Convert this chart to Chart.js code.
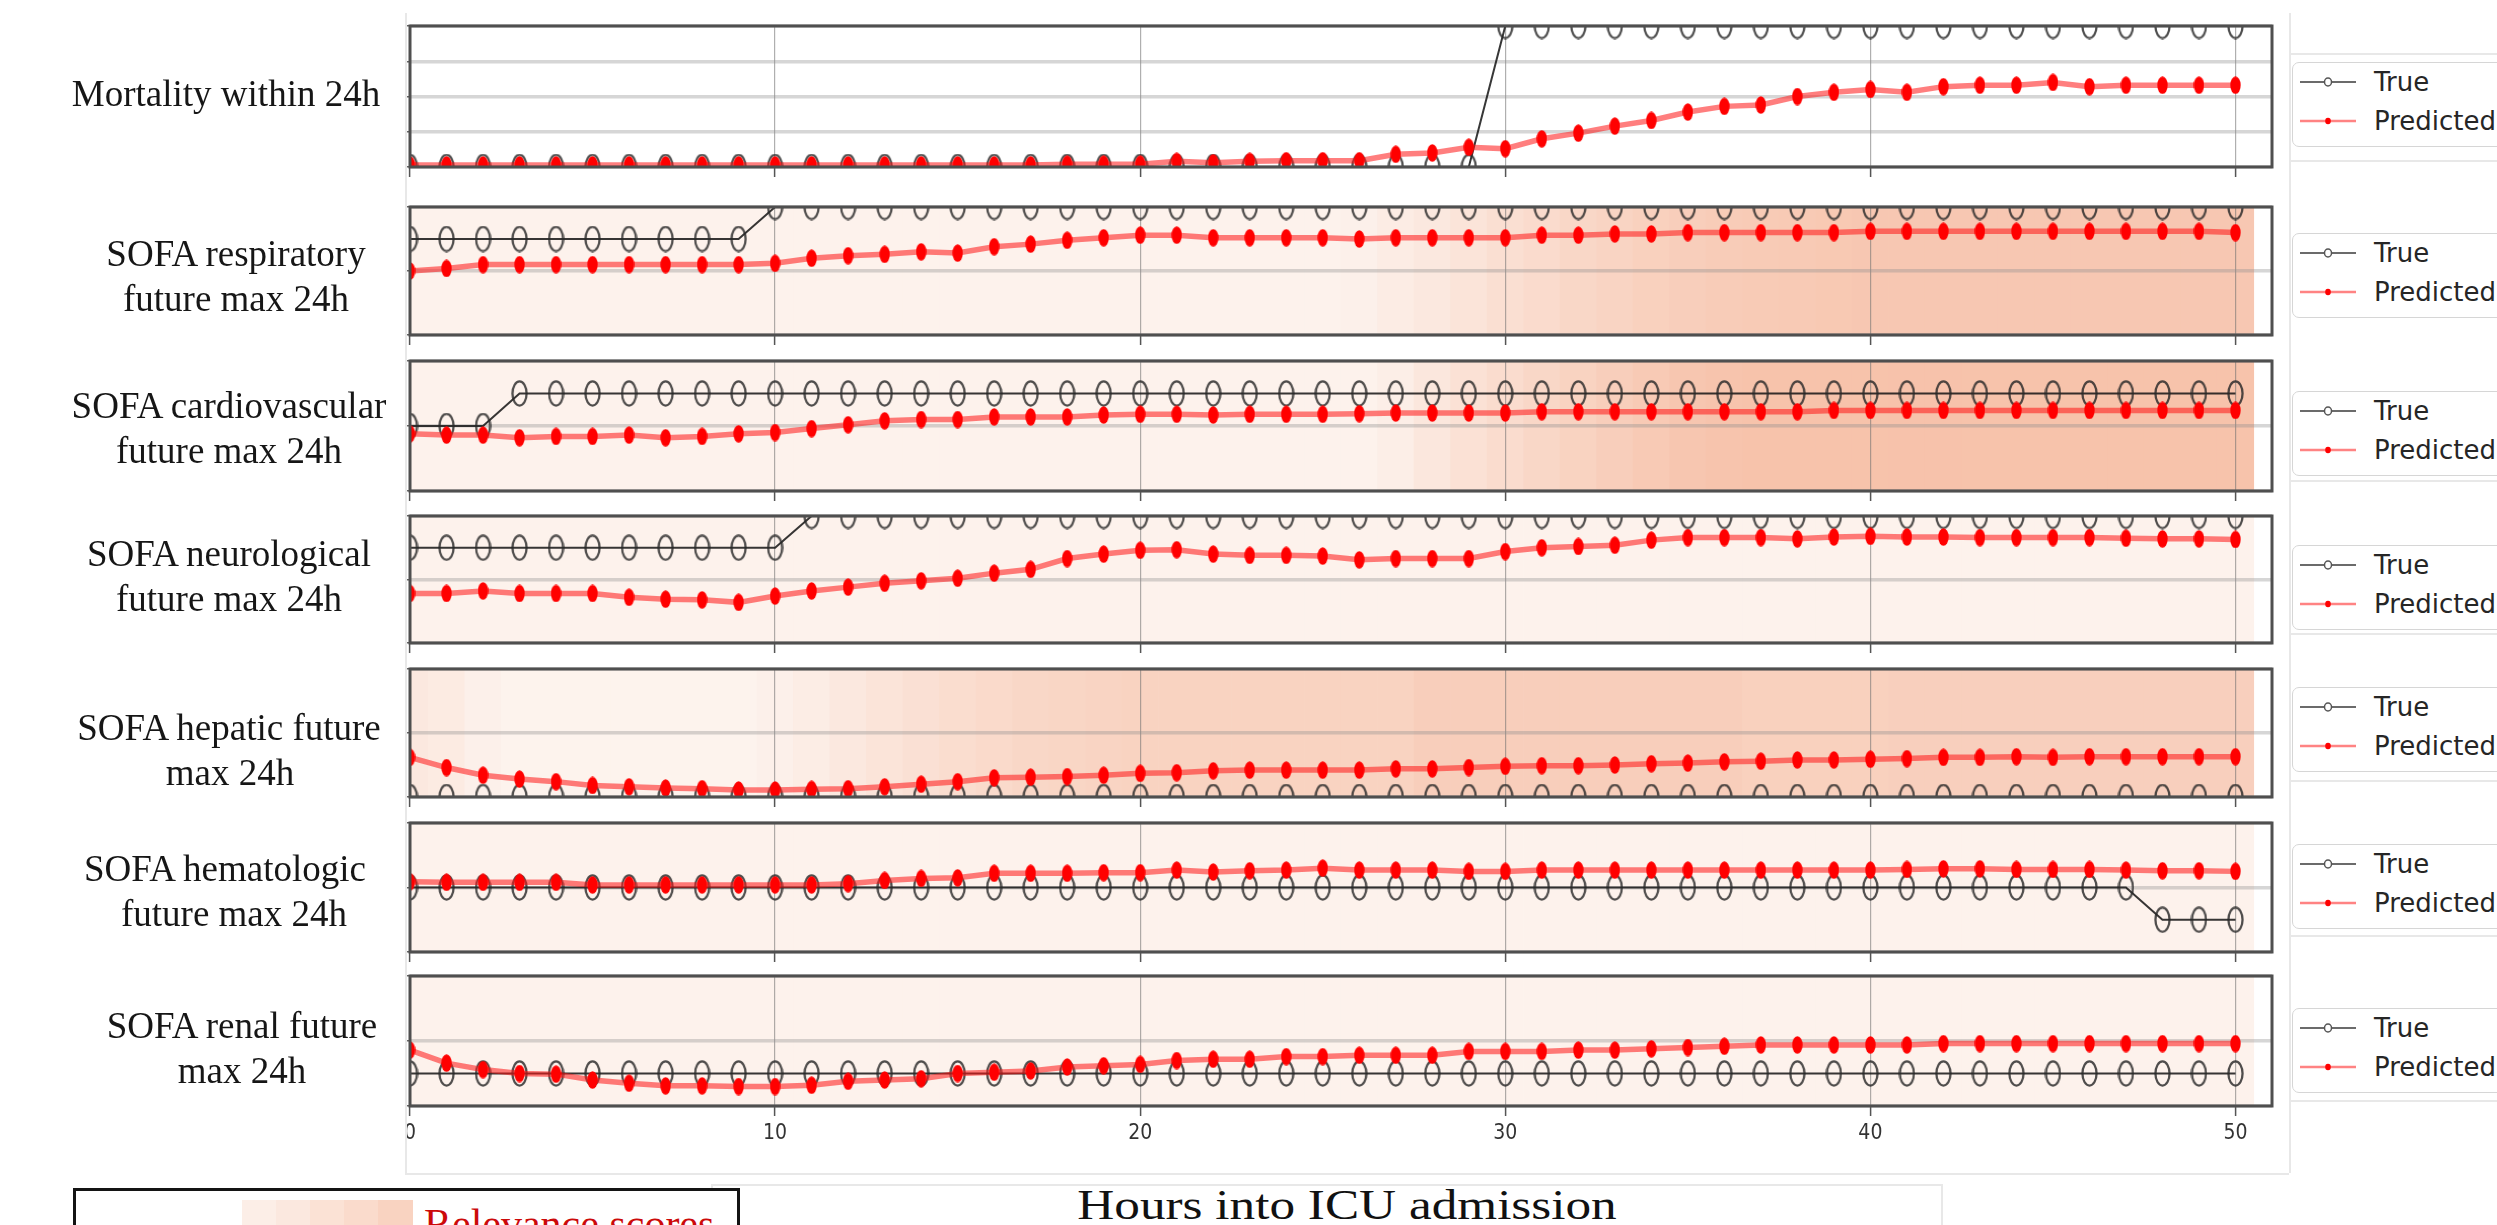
<!DOCTYPE html>
<html>
<head>
<meta charset="utf-8">
<script src="https://cdn.jsdelivr.net/npm/chart.js@4.4.1/dist/chart.umd.min.js"></script>
<style>
  html, body { margin:0; padding:0; background:#ffffff; }
  body { width:2497px; height:1225px; position:relative; overflow:hidden; }
  canvas { position:absolute; }
  .lbl { position:absolute; font-family:'Liberation Serif','Times New Roman',serif; font-size:37px; color:#161616; white-space:nowrap; transform:translate(-50%,-50%); line-height:1; }
  .leg { position:absolute; left:2292px; width:260px; height:85px; border:1.5px solid #d6d6d6; border-radius:7px; background:#fff; box-sizing:border-box; }
  .leg .row { position:absolute; left:0; height:30px; width:100%; }
  .leg svg { position:absolute; left:6px; top:5px; }
  .leg span { position:absolute; left:81px; top:0; font-family:'DejaVu Sans',sans-serif; font-size:26px; line-height:30px; color:#262626; }
  .faint { position:absolute; background:#e8e8e8; }
</style>
</head>
<body>
<script>
// ---------------- data ----------------
const HOURS = [0,1,2,3,4,5,6,7,8,9,10,11,12,13,14,15,16,17,18,19,20,21,22,23,24,25,26,27,28,29,30,31,32,33,34,35,36,37,38,39,40,41,42,43,44,45,46,47,48,49,50];
const X_TICKS = [0,10,20,30,40,50];

const MORT_TRUE = [0,0,0,0,0,0,0,0,0,0, 0,0,0,0,0,0,0,0,0,0, 0,0,0,0,0,0,0,0,0,0, 1,1,1,1,1,1,1,1,1,1, 1,1,1,1,1,1,1,1,1,1, 1];
const MORT_PRED = [0.015,0.015,0.015,0.015,0.015,0.015,0.015,0.015,0.015,0.015, 0.015,0.015,0.015,0.015,0.015,0.015,0.015,0.015,0.02,0.02, 0.02,0.04,0.03,0.04,0.045,0.045,0.045,0.09,0.10,0.14, 0.13,0.20,0.24,0.29,0.33,0.39,0.43,0.44,0.50,0.53, 0.55,0.53,0.57,0.58,0.58,0.60,0.57,0.58,0.58,0.58, 0.58];

const RESP_TRUE = [0.75,0.75,0.75,0.75,0.75,0.75,0.75,0.75,0.75,0.75, 1,1,1,1,1,1,1,1,1,1, 1,1,1,1,1,1,1,1,1,1, 1,1,1,1,1,1,1,1,1,1, 1,1,1,1,1,1,1,1,1,1, 1];
const RESP_PRED = [0.50,0.52,0.55,0.55,0.55,0.55,0.55,0.55,0.55,0.55, 0.56,0.60,0.62,0.63,0.65,0.64,0.69,0.71,0.74,0.76, 0.78,0.78,0.76,0.76,0.76,0.76,0.75,0.76,0.76,0.76, 0.76,0.78,0.78,0.79,0.79,0.80,0.80,0.80,0.80,0.80, 0.81,0.81,0.81,0.81,0.81,0.81,0.81,0.81,0.81,0.81, 0.80];
const RESP_REL = [0.05,0.05,0.05,0.05,0.05,0.05,0.05,0.05,0.05,0.05, 0.05,0.05,0.05,0.05,0.05,0.05,0.05,0.05,0.05,0.05, 0.05,0.05,0.05,0.05,0.05,0.05,0.08,0.15,0.22,0.30, 0.38,0.45,0.52,0.58,0.64,0.68,0.72,0.74,0.76,0.78, 0.80,0.80,0.80,0.80,0.80,0.80,0.80,0.80,0.80,0.80, 0.80];

const CARD_TRUE = [0.5,0.5,0.5,0.75,0.75,0.75,0.75,0.75,0.75,0.75, 0.75,0.75,0.75,0.75,0.75,0.75,0.75,0.75,0.75,0.75, 0.75,0.75,0.75,0.75,0.75,0.75,0.75,0.75,0.75,0.75, 0.75,0.75,0.75,0.75,0.75,0.75,0.75,0.75,0.75,0.75, 0.75,0.75,0.75,0.75,0.75,0.75,0.75,0.75,0.75,0.75, 0.75];
const CARD_PRED = [0.44,0.43,0.43,0.41,0.42,0.42,0.43,0.41,0.42,0.44, 0.45,0.48,0.51,0.54,0.55,0.55,0.57,0.57,0.57,0.585, 0.59,0.59,0.585,0.59,0.59,0.59,0.595,0.60,0.60,0.60, 0.60,0.61,0.61,0.61,0.61,0.61,0.61,0.61,0.61,0.62, 0.62,0.62,0.62,0.62,0.62,0.62,0.62,0.62,0.62,0.62, 0.62];
const CARD_REL = [0.05,0.05,0.05,0.05,0.05,0.05,0.05,0.05,0.05,0.05, 0.05,0.05,0.05,0.05,0.05,0.05,0.05,0.05,0.05,0.05, 0.05,0.05,0.05,0.05,0.05,0.05,0.05,0.12,0.24,0.35, 0.44,0.52,0.60,0.68,0.76,0.82,0.86,0.88,0.88,0.88, 0.88,0.89,0.89,0.88,0.88,0.88,0.88,0.88,0.88,0.88, 0.88];

const NEURO_TRUE = [0.75,0.75,0.75,0.75,0.75,0.75,0.75,0.75,0.75,0.75, 0.75,1,1,1,1,1,1,1,1,1, 1,1,1,1,1,1,1,1,1,1, 1,1,1,1,1,1,1,1,1,1, 1,1,1,1,1,1,1,1,1,1, 1];
const NEURO_PRED = [0.39,0.39,0.41,0.39,0.39,0.39,0.36,0.345,0.34,0.32, 0.37,0.41,0.44,0.47,0.49,0.51,0.55,0.58,0.665,0.70, 0.73,0.735,0.70,0.69,0.69,0.685,0.655,0.665,0.665,0.665, 0.72,0.75,0.76,0.77,0.81,0.83,0.83,0.83,0.82,0.835, 0.84,0.835,0.835,0.83,0.83,0.83,0.83,0.825,0.82,0.82, 0.815];
const NEURO_REL = [0.05,0.05,0.05,0.05,0.05,0.05,0.05,0.05,0.05,0.05, 0.05,0.05,0.05,0.05,0.05,0.05,0.05,0.05,0.05,0.05, 0.05,0.05,0.05,0.05,0.05,0.05,0.05,0.05,0.05,0.05, 0.05,0.05,0.05,0.05,0.05,0.05,0.05,0.05,0.05,0.05, 0.05,0.05,0.05,0.05,0.05,0.05,0.05,0.05,0.05,0.05, 0.05];

const HEP_TRUE = [0,0,0,0,0,0,0,0,0,0, 0,0,0,0,0,0,0,0,0,0, 0,0,0,0,0,0,0,0,0,0, 0,0,0,0,0,0,0,0,0,0, 0,0,0,0,0,0,0,0,0,0, 0];
const HEP_PRED = [0.31,0.23,0.17,0.14,0.12,0.09,0.08,0.07,0.065,0.055, 0.055,0.06,0.065,0.08,0.10,0.12,0.15,0.155,0.16,0.17, 0.185,0.19,0.205,0.21,0.21,0.21,0.21,0.22,0.22,0.23, 0.24,0.245,0.245,0.25,0.26,0.265,0.275,0.28,0.29,0.29, 0.295,0.30,0.31,0.31,0.315,0.31,0.315,0.315,0.315,0.315, 0.315];
const HEP_REL = [0.22,0.18,0.08,0.04,0.04,0.04,0.04,0.04,0.04,0.04, 0.08,0.14,0.22,0.30,0.36,0.42,0.48,0.52,0.55,0.58, 0.60,0.60,0.60,0.60,0.60,0.60,0.60,0.60,0.68,0.68, 0.68,0.68,0.68,0.68,0.68,0.68,0.68,0.64,0.64,0.64, 0.64,0.66,0.66,0.66,0.66,0.66,0.66,0.66,0.66,0.66, 0.66];

const HEMAT_TRUE = [0.5,0.5,0.5,0.5,0.5,0.5,0.5,0.5,0.5,0.5, 0.5,0.5,0.5,0.5,0.5,0.5,0.5,0.5,0.5,0.5, 0.5,0.5,0.5,0.5,0.5,0.5,0.5,0.5,0.5,0.5, 0.5,0.5,0.5,0.5,0.5,0.5,0.5,0.5,0.5,0.5, 0.5,0.5,0.5,0.5,0.5,0.5,0.5,0.5,0.25,0.25, 0.25];
const HEMAT_PRED = [0.545,0.54,0.54,0.54,0.54,0.52,0.52,0.52,0.52,0.52, 0.52,0.52,0.53,0.555,0.57,0.575,0.61,0.61,0.61,0.615, 0.615,0.635,0.62,0.63,0.635,0.65,0.635,0.635,0.635,0.625, 0.625,0.635,0.635,0.635,0.635,0.635,0.635,0.635,0.635,0.635, 0.635,0.64,0.645,0.645,0.64,0.64,0.64,0.635,0.63,0.63, 0.625];
const HEMAT_REL = [0.05,0.05,0.05,0.05,0.05,0.05,0.05,0.05,0.05,0.05, 0.05,0.05,0.05,0.05,0.05,0.05,0.05,0.05,0.05,0.05, 0.05,0.05,0.05,0.05,0.05,0.05,0.05,0.05,0.05,0.05, 0.05,0.05,0.05,0.05,0.05,0.05,0.05,0.05,0.05,0.05, 0.05,0.05,0.05,0.05,0.05,0.05,0.05,0.05,0.05,0.05, 0.05];

const RENAL_TRUE = [0.25,0.25,0.25,0.25,0.25,0.25,0.25,0.25,0.25,0.25, 0.25,0.25,0.25,0.25,0.25,0.25,0.25,0.25,0.25,0.25, 0.25,0.25,0.25,0.25,0.25,0.25,0.25,0.25,0.25,0.25, 0.25,0.25,0.25,0.25,0.25,0.25,0.25,0.25,0.25,0.25, 0.25,0.25,0.25,0.25,0.25,0.25,0.25,0.25,0.25,0.25, 0.25];
const RENAL_PRED = [0.43,0.33,0.28,0.25,0.245,0.20,0.175,0.155,0.155,0.15, 0.15,0.16,0.19,0.20,0.21,0.25,0.26,0.27,0.30,0.31, 0.32,0.35,0.36,0.36,0.38,0.38,0.39,0.39,0.39,0.42, 0.42,0.42,0.43,0.43,0.44,0.45,0.46,0.47,0.47,0.47, 0.47,0.47,0.48,0.48,0.48,0.48,0.48,0.48,0.48,0.48, 0.48];
const RENAL_REL = [0.05,0.05,0.05,0.05,0.05,0.05,0.05,0.05,0.05,0.05, 0.05,0.05,0.05,0.05,0.05,0.05,0.05,0.05,0.05,0.05, 0.05,0.05,0.05,0.05,0.05,0.05,0.05,0.05,0.05,0.05, 0.05,0.05,0.05,0.05,0.05,0.05,0.05,0.05,0.05,0.05, 0.05,0.05,0.05,0.05,0.05,0.05,0.05,0.05,0.05,0.05, 0.05];

const ROW_LABELS = [
  ["Mortality within 24h"],
  ["SOFA respiratory", "future max 24h"],
  ["SOFA cardiovascular", "future max 24h"],
  ["SOFA neurological", "future max 24h"],
  ["SOFA hepatic future", "max 24h"],
  ["SOFA hematologic", "future max 24h"],
  ["SOFA renal future", "max 24h"]
];
const LEGEND_LABELS = ["True", "Predicted"];
const X_TITLE = "Hours into ICU admission";
const REL_TITLE = "Relevance scores";

// ---------------- layout ----------------
const CV_LEFT = 360, CV_RIGHT = 2300, PLOT_LEFT = 410, PLOT_RIGHT = 2272, PAD_TOP = 14;
const LAYOUT = [
  {top:26,  bottom:167,  ystep:0.25, tv:MORT_TRUE,  pv:MORT_PRED,  rel:null,      cx:[226],     cy:[93],        leg:62,   xh:18},
  {top:207, bottom:335,  ystep:0.5,  tv:RESP_TRUE,  pv:RESP_PRED,  rel:RESP_REL,  cx:[236,236], cy:[253,298],   leg:233,  xh:18},
  {top:361, bottom:491,  ystep:0.5,  tv:CARD_TRUE,  pv:CARD_PRED,  rel:CARD_REL,  cx:[229,229], cy:[405,450],   leg:391,  xh:18},
  {top:516, bottom:643,  ystep:0.5,  tv:NEURO_TRUE, pv:NEURO_PRED, rel:NEURO_REL, cx:[229,229], cy:[553,598],   leg:545,  xh:18},
  {top:669, bottom:797,  ystep:0.5,  tv:HEP_TRUE,   pv:HEP_PRED,   rel:HEP_REL,   cx:[229,230], cy:[727,772],   leg:687,  xh:18},
  {top:823, bottom:952,  ystep:0.5,  tv:HEMAT_TRUE, pv:HEMAT_PRED, rel:HEMAT_REL, cx:[225,234], cy:[868,913],   leg:844,  xh:18},
  {top:976, bottom:1106, ystep:0.5,  tv:RENAL_TRUE, pv:RENAL_PRED, rel:RENAL_REL, cx:[242,242], cy:[1025,1070], leg:1008, xh:52, ticks:true}
];

function relColor(v) {
  const L = [253,245,240], D = [246,188,162];
  const c = L.map((l,i) => Math.round(l + (D[i]-l)*v));
  return `rgb(${c[0]},${c[1]},${c[2]})`;
}

function ellipseMarker(w, h, fill, stroke, lw) {
  const c = document.createElement('canvas');
  c.width = w; c.height = h;
  const g = c.getContext('2d');
  g.beginPath();
  g.ellipse(w/2, h/2, w/2 - lw/2 - 0.3, h/2 - lw/2 - 0.3, 0, 0, Math.PI*2);
  if (fill) { g.fillStyle = fill; g.fill(); }
  if (stroke) { g.strokeStyle = stroke; g.lineWidth = lw; g.stroke(); }
  return c;
}
const TRUE_MARK = ellipseMarker(17, 27, null, 'rgba(40,40,40,0.82)', 2.3);
const PRED_MARK = ellipseMarker(11, 18, '#ff0000', null, 0);

const framePlugin = {
  id: 'frame',
  afterDraw(chart) {
    const {ctx, chartArea:a} = chart;
    ctx.save();
    ctx.strokeStyle = '#4f4f4f';
    ctx.lineWidth = 3;
    ctx.strokeRect(a.left, a.top, a.right - a.left, a.bottom - a.top);
    ctx.restore();
  }
};

function addCanvas(top, h) {
  const cv = document.createElement('canvas');
  const w = CV_RIGHT - CV_LEFT;
  cv.width = w; cv.height = h;
  cv.style.left = CV_LEFT + 'px'; cv.style.top = top + 'px';
  cv.style.width = w + 'px'; cv.style.height = h + 'px';
  document.body.appendChild(cv);
  return cv;
}

function scalesFor(p, fg) {
  return {
    x: {
      type: 'linear', min: 0, max: 51, offset: false,
      afterFit: s => { s.height = p.xh; },
      afterBuildTicks: s => { s.ticks = X_TICKS.map(v => ({value: v})); },
      ticks: { display: fg && !!p.ticks, includeBounds: false, color: '#333',
               font: { family: "'DejaVu Sans Condensed','DejaVu Sans',sans-serif", size: 21 },
               padding: 5, maxRotation: 0, autoSkip: false },
      grid: { display: fg, offset: false, color: 'rgba(110,110,110,0.55)', lineWidth: 1.2,
              drawTicks: true, tickLength: 10, tickColor: '#555', tickWidth: 1.5 },
      border: { display: false }
    },
    y: {
      min: 0, max: 1,
      afterFit: s => { s.width = PLOT_LEFT - CV_LEFT; },
      ticks: { display: false, stepSize: p.ystep, includeBounds: false },
      grid: { display: fg, color: 'rgba(140,140,140,0.36)', lineWidth: 3.5, drawTicks: true,
              tickLength: 5, tickColor: 'rgba(60,60,60,0.8)', tickWidth: 1.5 },
      border: { display: false }
    }
  };
}

function baseOptions(p, fg) {
  return {
    responsive: false, animation: false, events: [],
    layout: { padding: { left: 0, right: CV_RIGHT - PLOT_RIGHT, top: PAD_TOP, bottom: 0 } },
    plugins: { legend: { display: false }, tooltip: { enabled: false } },
    scales: scalesFor(p, fg)
  };
}

LAYOUT.forEach((p, k) => {
  const top = p.top - PAD_TOP;
  const h = (p.bottom - p.top) + PAD_TOP + p.xh;
  // background relevance cells
  if (p.rel) {
    const bg = addCanvas(top, h);
    new Chart(bg, {
      type: 'bar',
      data: { datasets: [{
        data: HOURS.map((x, i) => ({x: x, y: 1})),
        backgroundColor: p.rel.map(relColor),
        borderWidth: 0, barPercentage: 1, categoryPercentage: 1, clip: 0
      }]},
      options: baseOptions(p, false)
    });
  }
  // foreground: grid, lines, markers, frame
  const fg = addCanvas(top, h);
  new Chart(fg, {
    type: 'line',
    data: { datasets: [
      { label: LEGEND_LABELS[1], data: HOURS.map((x, i) => ({x: x, y: p.pv[i]})),
        borderColor: 'rgba(255,20,20,0.55)', borderWidth: 5.5, tension: 0,
        pointStyle: PRED_MARK, pointRadius: 5, clip: 0 },
      { label: LEGEND_LABELS[0], data: HOURS.map((x, i) => ({x: x, y: p.tv[i]})),
        borderColor: 'rgba(20,20,20,0.85)', borderWidth: 2, tension: 0,
        pointStyle: TRUE_MARK, pointRadius: 6, clip: 0 }
    ]},
    options: baseOptions(p, true),
    plugins: [framePlugin]
  });

  // row label
  ROW_LABELS[k].forEach((t, j) => {
    const d = document.createElement('div');
    d.className = 'lbl'; d.textContent = t;
    d.style.left = p.cx[j] + 'px'; d.style.top = p.cy[j] + 'px';
    document.body.appendChild(d);
  });

  // legend
  const lg = document.createElement('div');
  lg.className = 'leg'; lg.style.top = p.leg + 'px';
  lg.innerHTML =
    `<div class="row" style="top:4px"><svg width="60" height="20"><line x1="1" y1="10" x2="57" y2="10" stroke="#3a3a3a" stroke-width="1.6"/><ellipse cx="29" cy="10" rx="3.5" ry="4" fill="#fff" stroke="#555" stroke-width="1.5"/></svg><span>${LEGEND_LABELS[0]}</span></div>` +
    `<div class="row" style="top:43px"><svg width="60" height="20"><line x1="1" y1="10" x2="57" y2="10" stroke="rgba(255,30,30,0.55)" stroke-width="2.4"/><ellipse cx="29" cy="10" rx="2.8" ry="3.2" fill="#ff0000"/></svg><span>${LEGEND_LABELS[1]}</span></div>`;
  document.body.appendChild(lg);
});

// faint tile boundary lines
function faint(l, t, w, h) {
  const d = document.createElement('div');
  d.className = 'faint';
  d.style.left = l + 'px'; d.style.top = t + 'px'; d.style.width = w + 'px'; d.style.height = h + 'px';
  document.body.appendChild(d);
}
faint(405, 13, 1.5, 1160);
faint(405, 1173, 1884, 1.5);
faint(2289, 13, 1.5, 1160);
[53, 160, 480, 633, 780, 935, 1100].forEach(y => faint(2289, y, 210, 1.5));
faint(711, 1184, 1230, 1.5);
faint(1941, 1184, 1.5, 41);
faint(711, 1184, 1.5, 16);

// x-axis title
const xt = document.createElement('div');
xt.className = 'lbl'; xt.textContent = X_TITLE;
xt.style.fontSize = '42px';
xt.style.left = '1347px'; xt.style.top = '1205px';
xt.style.transform = 'translate(-50%,-50%) scaleX(1.22)';
xt.style.color = '#111';
document.body.appendChild(xt);

// relevance legend box
const box = document.createElement('div');
box.style.cssText = 'position:absolute;left:73px;top:1188px;width:667px;height:80px;border:3px solid #141414;box-sizing:border-box;background:#fff;';
document.body.appendChild(box);
const SWATCH = [0.12, 0.22, 0.34, 0.46, 0.6];
SWATCH.forEach((v, i) => {
  const s = document.createElement('div');
  s.style.cssText = `position:absolute;top:1200px;height:40px;left:${242 + i*34}px;width:${i === 4 ? 35 : 34}px;background:${relColor(v)};`;
  document.body.appendChild(s);
});
const rt = document.createElement('div');
rt.textContent = REL_TITLE;
rt.style.cssText = "position:absolute;left:424px;top:1203px;font-family:'Liberation Serif','Times New Roman',serif;font-size:42px;line-height:1;color:#cc0a0a;white-space:nowrap;";
document.body.appendChild(rt);
</script>
</body>
</html>
